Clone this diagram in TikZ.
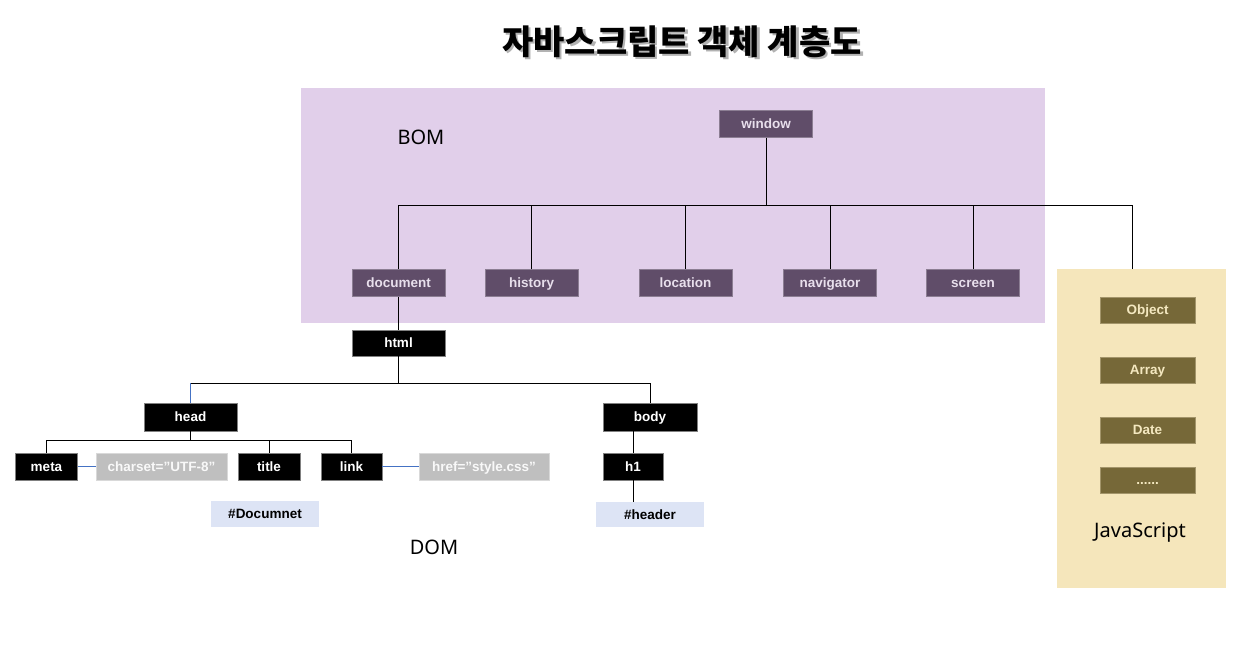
\documentclass[tikz,border=0pt]{standalone}
\usepackage{fontspec}
\setmainfont{Noto Sans}
\newfontfamily\lab{Liberation Sans}
\newfontfamily\kr{Noto Sans CJK KR}
\definecolor{bombg}{HTML}{E1CFEA}
\definecolor{pfill}{HTML}{604D69}
\definecolor{pline}{HTML}{8C7E93}
\definecolor{ptext}{HTML}{E8DFEC}
\definecolor{jsbg}{HTML}{F5E6BB}
\definecolor{gfill}{HTML}{766838}
\definecolor{gline}{HTML}{A3956A}
\definecolor{gtext}{HTML}{F4E8C0}
\definecolor{gryfill}{HTML}{BFBFBF}
\definecolor{gryline}{HTML}{D9D9D9}
\definecolor{lblue}{HTML}{DDE4F5}
\definecolor{linkblue}{HTML}{4472C4}
\newcommand\titletext{자바스크립트 객체 계층도}
\tikzset{
  base/.style={inner sep=0pt, anchor=center, minimum height=27pt, text height=11.5pt, text depth=2pt, font=\lab\bfseries\fontsize{13.5}{15}\selectfont},
  pbox/.style={base, fill=pfill, draw=pline, line width=0.8pt, text=ptext, minimum width=93pt},
  blk/.style={base, fill=black, draw=gray, line width=0.8pt, text=white},
  gbox/.style={base, fill=gfill, draw=gline, line width=0.8pt, text=gtext, minimum width=95pt, minimum height=26pt},
  gry/.style={base, fill=gryfill, draw=gryline, line width=0.8pt, text=white!95!gray},
  lbl/.style={base, fill=lblue, text=black, minimum height=25pt},
  conn/.style={draw=black, line width=0.9pt},
  bconn/.style={draw=linkblue, line width=0.9pt},
  area/.style={inner sep=0pt, anchor=center, font=\fontsize{20}{24}\selectfont}
}
\begin{document}
\begin{tikzpicture}[x=1pt,y=-1pt]
\useasboundingbox (0,0) rectangle (1240,657);
% title with shadow
\node (title) [anchor=center, font=\kr\bfseries\fontsize{34}{38}\selectfont] at (682,43)
  {\makebox[0pt][l]{\hspace{2.5pt}\raisebox{-2.5pt}{\color{gray!60}\titletext}}\titletext};
% areas
\fill[bombg] (301,88) rectangle (1045,323);
\fill[jsbg] (1057,269) rectangle (1226,588);
\node (bom) [area] at (421,137) {BOM};
\node (dom) [area] at (434,547) {DOM};
\node (jslabel) [area] at (1140,533) {JavaScript};
% BOM nodes
\node (window) [pbox] at (766,124) {window};
\node (document) [pbox] at (398.5,283) {document};
\node (history) [pbox] at (531.5,283) {history};
\node (location) [pbox] at (685.5,283) {location};
\node (navigator) [pbox] at (830,283) {navigator};
\node (screen) [pbox] at (973,283) {screen};
\coordinate (jstop) at (1132.5,269);
\coordinate (bus1) at (766,205);
% JS nodes
\node (object) [gbox] at (1147.5,310) {Object};
\node (array) [gbox] at (1147.5,370) {Array};
\node (date) [gbox] at (1147.5,430) {Date};
\node (more) [gbox] at (1147.5,480) {......};
% DOM nodes
\node (html) [blk, minimum width=93pt, minimum height=26pt] at (398.5,343) {html};
\node (head) [blk, minimum width=93pt, minimum height=28pt] at (190.5,417) {head};
\node (body) [blk, minimum width=94pt, minimum height=28pt] at (650,417) {body};
\node (meta) [blk, minimum width=62pt] at (46.5,466.5) {meta};
\node (charset) [gry, minimum width=131pt] at (161.5,466.5) {charset=”UTF-8”};
\node (titlen) [blk, minimum width=62pt] at (269,466.5) {title};
\node (link) [blk, minimum width=61pt] at (351.5,466.5) {link};
\node (href) [gry, minimum width=130pt] at (484,466.5) {href=”style.css”};
\node (h1) [blk, minimum width=60pt] at (633,466.5) {h1};
\node (docnet) [lbl, minimum width=108pt, minimum height=26pt] at (265,514) {\#Documnet};
\node (header) [lbl, minimum width=108pt] at (650,514.5) {\#header};
% BOM connectors
\draw[conn] (window.south) -- (bus1);
\draw[conn] (document.north) |- (jstop |- bus1) -- (jstop);
\draw[conn] (history.north) -- (history.north |- bus1);
\draw[conn] (location.north) -- (location.north |- bus1);
\draw[conn] (navigator.north) -- (navigator.north |- bus1);
\draw[conn] (screen.north) -- (screen.north |- bus1);
% DOM connectors
\coordinate (bus2) at (398.5,383);
\coordinate (bus3) at (190.5,440);
\draw[conn] (document.south) -- (html.north);
\draw[conn] (html.south) -- (bus2);
\draw[conn] (head.north |- bus2) -- (body.north |- bus2) -- (body.north);
\draw[bconn] (head.north |- bus2) -- (head.north);
\draw[conn] (head.south) -- (bus3);
\draw[conn] (meta.north) |- (link.north |- bus3) -- (link.north);
\draw[conn] (titlen.north) -- (titlen.north |- bus3);
\draw[bconn] (meta.east) -- (charset.west);
\draw[bconn] (link.east) -- (href.west);
\draw[conn] (h1.north) -- (h1.north |- body.south);
\draw[conn] (h1.south) -- (h1.south |- header.north);
\end{tikzpicture}
\end{document}
